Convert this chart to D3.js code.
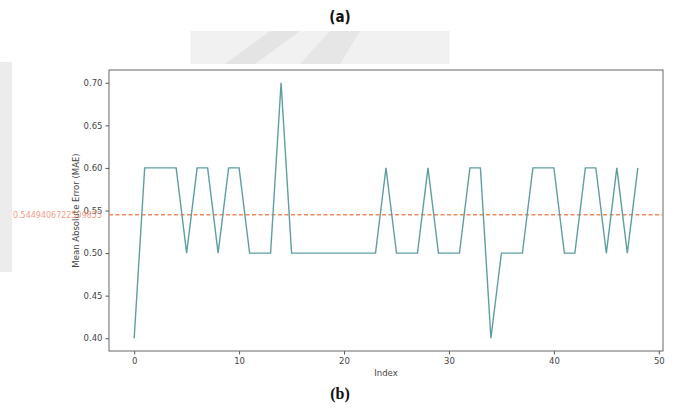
<!DOCTYPE html>
<html>
<head>
<meta charset="utf-8">
<script src="https://cdn.jsdelivr.net/npm/d3@7"></script>
<style>
  html, body { margin: 0; padding: 0; background: #fff; }
  svg { display: block; }
</style>
</head>
<body>
<svg id="chart" width="681" height="408"></svg>
<script>
// ---- data ----
const indices = d3.range(0, 49);
const maeValues = [
  0.4, 0.6, 0.6, 0.6, 0.6, 0.5, 0.6, 0.6, 0.5, 0.6,
  0.6, 0.5, 0.5, 0.5, 0.7, 0.5, 0.5, 0.5, 0.5, 0.5,
  0.5, 0.5, 0.5, 0.5, 0.6, 0.5, 0.5, 0.5, 0.6, 0.5,
  0.5, 0.5, 0.6, 0.6, 0.4, 0.5, 0.5, 0.5, 0.6, 0.6,
  0.6, 0.5, 0.5, 0.6, 0.6, 0.5, 0.6, 0.5, 0.6
];
const meanValue = 0.5449406722509855;
const meanLabel = "0.5449406722509855";
const xTicks = [0, 10, 20, 30, 40, 50];
const yTicks = [0.40, 0.45, 0.50, 0.55, 0.60, 0.65, 0.70];

// ---- layout ----
const svg = d3.select("#chart");
const pLeft = 109, pRight = 663, pTop = 70, pBottom = 351;

// background photo artefacts (light gray)
svg.append("rect").attr("x", 0).attr("y", 62).attr("width", 12).attr("height", 210).attr("fill", "#ececec");
svg.append("rect").attr("x", 190).attr("y", 31).attr("width", 260).attr("height", 33).attr("fill", "#f1f1f1");
svg.append("path").attr("d", "M225,64 L270,31 L300,31 L255,64 Z").attr("fill", "#e4e4e4");
svg.append("path").attr("d", "M300,64 L330,31 L360,31 L340,64 Z").attr("fill", "#e6e6e6");

const x = d3.scaleLinear().domain([-2.4, 50.4]).range([pLeft, pRight]);
const y = d3.scaleLinear().domain([0.385, 0.715]).range([pBottom, pTop]);

// titles
svg.append("text").attr("x", 340).attr("y", 22).attr("text-anchor", "middle")
  .attr("font-family", "Liberation Sans Narrow, DejaVu Sans Condensed, sans-serif")
  .attr("font-weight", "bold").attr("font-size", 15).attr("fill", "#111").text("(a)");
svg.append("text").attr("x", 340).attr("y", 399).attr("text-anchor", "middle")
  .attr("font-family", "Liberation Serif, DejaVu Serif, serif")
  .attr("font-weight", "bold").attr("font-size", 16).attr("fill", "#111").text("(b)");

// axes
const fontFam = "DejaVu Sans, sans-serif";
const xAxis = d3.axisBottom(x).tickValues(xTicks).tickFormat(d3.format("d")).tickSize(3.5).tickPadding(3);
const yAxis = d3.axisLeft(y).tickValues(yTicks).tickFormat(d3.format(".2f")).tickSize(3.5).tickPadding(3);

const gx = svg.append("g").attr("transform", `translate(0,${pBottom})`).call(xAxis);
const gy = svg.append("g").attr("transform", `translate(${pLeft},0)`).call(yAxis);
[gx, gy].forEach(g => {
  g.select(".domain").remove();
  g.selectAll(".tick line").attr("stroke", "#555");
  g.selectAll(".tick text").attr("font-family", fontFam).attr("font-size", 8.5).attr("fill", "#444");
});

// frame
svg.append("rect").attr("x", pLeft).attr("y", pTop).attr("width", pRight - pLeft).attr("height", pBottom - pTop)
  .attr("fill", "none").attr("stroke", "#666").attr("stroke-width", 1);

// axis labels
svg.append("text").attr("x", (pLeft + pRight) / 2).attr("y", 376).attr("text-anchor", "middle")
  .attr("font-family", fontFam).attr("font-size", 8.5).attr("fill", "#444").text("Index");
svg.append("text").attr("transform", `translate(79,${(pTop + pBottom) / 2}) rotate(-90)`)
  .attr("text-anchor", "middle").attr("font-family", fontFam).attr("font-size", 8.5)
  .attr("fill", "#444").text("Mean Absolute Error (MAE)");

// mean line
svg.append("line").attr("x1", pLeft).attr("x2", pRight).attr("y1", y(meanValue)).attr("y2", y(meanValue))
  .attr("stroke", "#f08a5d").attr("stroke-width", 1.5).attr("stroke-dasharray", "4,2.5");
svg.append("text").attr("x", 102).attr("y", y(meanValue) + 3).attr("text-anchor", "end")
  .attr("font-family", fontFam).attr("font-size", 8).attr("fill", "#f0957a").attr("opacity", 0.9)
  .text(meanLabel);

// series line
const line = d3.line().x((d, i) => x(indices[i])).y(d => y(d));
svg.append("path").datum(maeValues).attr("d", line)
  .attr("fill", "none").attr("stroke", "#5f9ea0").attr("stroke-width", 1.4);
</script>
</body>
</html>
